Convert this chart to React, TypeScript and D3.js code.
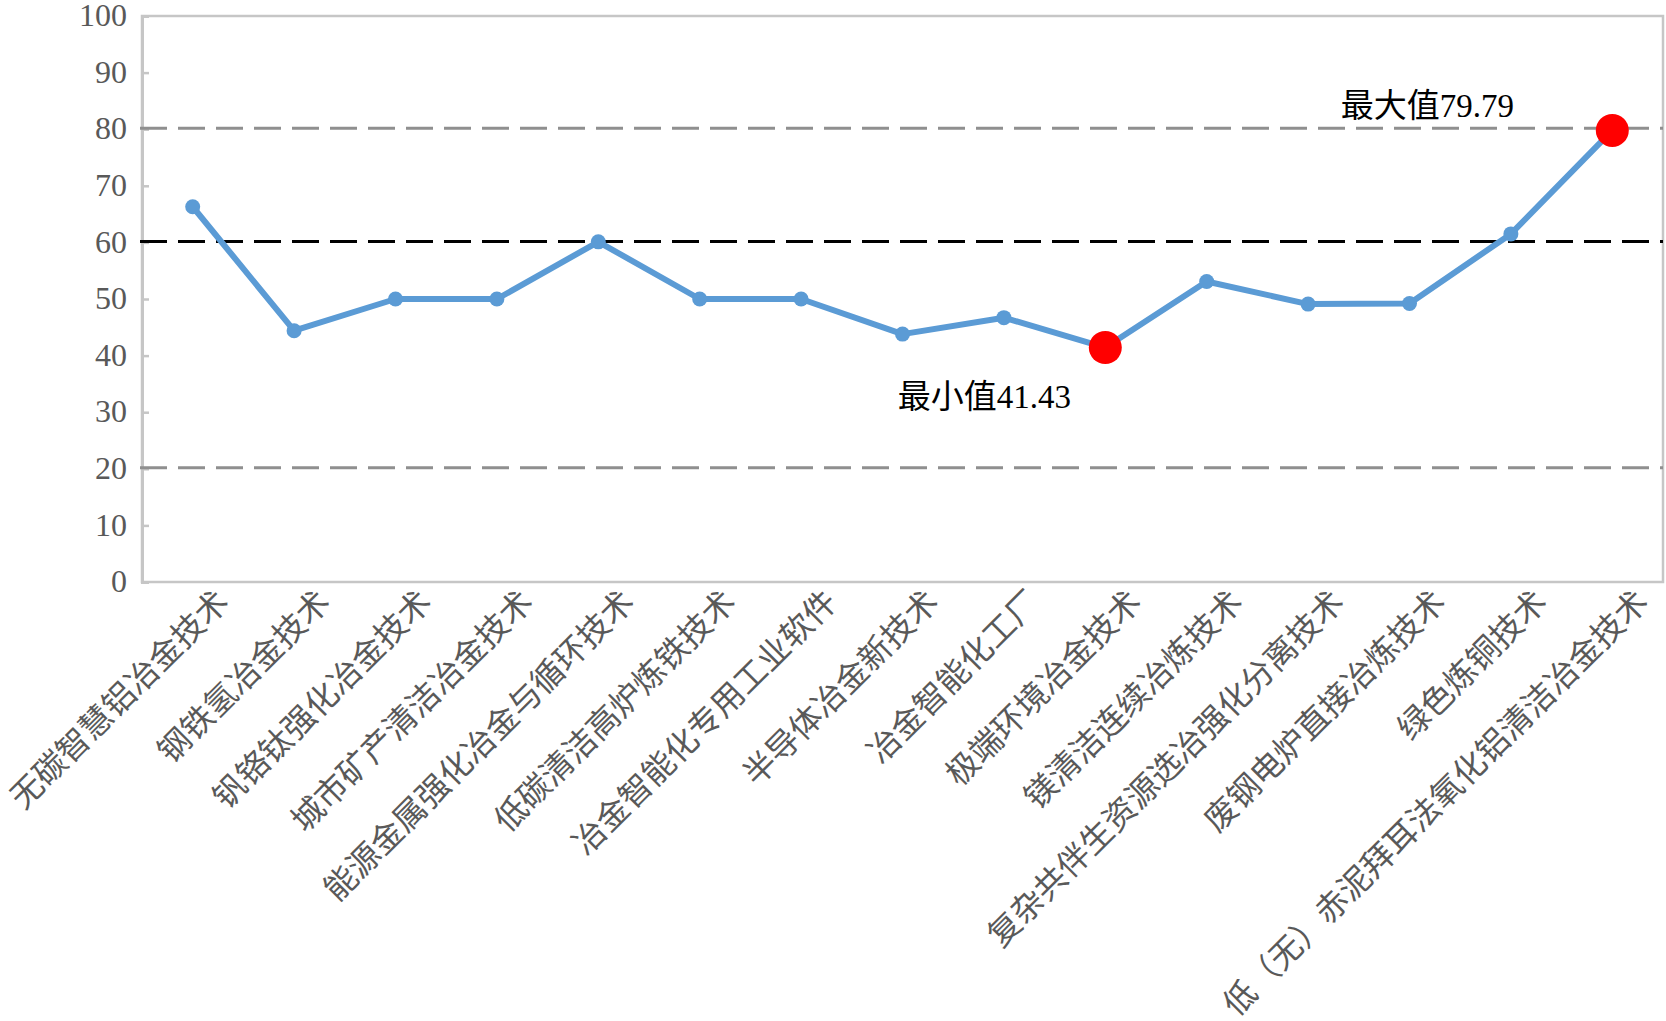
import React, { useRef, useEffect } from 'react';
import * as d3 from 'd3';

// technology names, in chart order
const categories = [
  '无碳智慧铝冶金技术',
  '钢铁氢冶金技术',
  '钒铬钛强化冶金技术',
  '城市矿产清洁冶金技术',
  '能源金属强化冶金与循环技术',
  '低碳清洁高炉炼铁技术',
  '冶金智能化专用工业软件',
  '半导体冶金新技术',
  '冶金智能化工厂',
  '极端环境冶金技术',
  '镁清洁连续冶炼技术',
  '复杂共伴生资源选冶强化分离技术',
  '废钢电炉直接冶炼技术',
  '绿色炼铜技术',
  '低（无）赤泥拜耳法氧化铝清洁冶金技术',
];

const scores = [66.3, 44.4, 50, 50, 60.1, 50, 50, 43.8, 46.7, 41.43, 53.1, 49.1, 49.2, 61.5, 79.79];

const yTickValues = [0, 10, 20, 30, 40, 50, 60, 70, 80, 90, 100];

// horizontal reference lines (60 = pass line)
const refLineValues = [80, 60, 20];

const W = 1666;
const H = 1021;
const margin = { top: 16, right: 3, bottom: 439, left: 142 };

const SERIF = '"Liberation Serif", "Times New Roman", "Noto Sans CJK SC", serif';

function App() {
  const ref = useRef<SVGSVGElement>(null);

  useEffect(() => {
    if (!ref.current) return;
    const svg = d3.select(ref.current);
    svg.selectAll('*').remove();

    const x0 = margin.left;
    const x1 = W - margin.right;
    const y0 = H - margin.bottom;
    const y1 = margin.top;

    const x = d3.scaleBand<string>().domain(categories).range([x0, x1]);
    const cx = (c: string) => (x(c) as number) + x.bandwidth() / 2;
    const y = d3.scaleLinear().domain([0, 100]).range([y0, y1]);

    // plot frame
    svg.append('rect')
      .attr('x', x0).attr('y', y1)
      .attr('width', x1 - x0).attr('height', y0 - y1)
      .attr('fill', 'none')
      .attr('stroke', '#c6c6c6')
      .attr('stroke-width', 2.5);

    // left axis with inward ticks
    const yAxis = svg.append('g')
      .attr('transform', `translate(${x0},0)`)
      .call(d3.axisRight(y).tickValues(yTickValues).tickSize(7).tickFormat(() => ''));
    yAxis.select('.domain').attr('stroke', '#c6c6c6').attr('stroke-width', 3);
    yAxis.selectAll('.tick line').attr('stroke', '#c6c6c6').attr('stroke-width', 2.5);

    svg.append('g')
      .selectAll('text')
      .data(yTickValues)
      .join('text')
      .attr('x', x0 - 15)
      .attr('y', d => y(d) - 1)
      .attr('dy', '0.35em')
      .attr('text-anchor', 'end')
      .attr('font-family', SERIF)
      .attr('font-size', 32)
      .attr('fill', '#595959')
      .text(d => d);

    // reference lines
    svg.append('g')
      .selectAll('line')
      .data(refLineValues)
      .join('line')
      .attr('x1', x0 - 2)
      .attr('x2', x1)
      .attr('y1', d => y(d) - 1)
      .attr('y2', d => y(d) - 1)
      .attr('stroke', d => (d === 60 ? '#000000' : '#8f8f8f'))
      .attr('stroke-width', 3)
      .attr('stroke-dasharray', '27,11');

    // x labels, rotated
    svg.append('g')
      .selectAll('text')
      .data(categories)
      .join('text')
      .attr('transform', d => `translate(${cx(d) + 38},${y0 + 22}) rotate(-45)`)
      .attr('text-anchor', 'end')
      .attr('font-family', SERIF)
      .attr('font-size', 32.5)
      .attr('fill', '#595959')
      .text(d => d);

    // score line
    const line = d3.line<number>()
      .x((_, i) => cx(categories[i]))
      .y(d => y(d));

    svg.append('path')
      .datum(scores)
      .attr('d', line)
      .attr('fill', 'none')
      .attr('stroke', '#5b9bd5')
      .attr('stroke-width', 6)
      .attr('stroke-linejoin', 'round');

    const maxV = d3.max(scores) as number;
    const minV = d3.min(scores) as number;

    svg.append('g')
      .selectAll('circle')
      .data(scores)
      .join('circle')
      .attr('cx', (_, i) => cx(categories[i]))
      .attr('cy', d => y(d))
      .attr('r', d => (d === maxV || d === minV ? 16.5 : 7.5))
      .attr('fill', d => (d === maxV || d === minV ? '#ff0000' : '#5b9bd5'));

    // extreme value notes
    const iMax = scores.indexOf(maxV);
    const iMin = scores.indexOf(minV);
    svg.append('text')
      .attr('x', cx(categories[iMax]) - 185)
      .attr('y', y(maxV) - 13)
      .attr('text-anchor', 'middle')
      .attr('font-family', SERIF)
      .attr('font-size', 33)
      .attr('fill', '#000')
      .text(`最大值${maxV}`);
    svg.append('text')
      .attr('x', cx(categories[iMin]) - 121)
      .attr('y', y(minV) + 60)
      .attr('text-anchor', 'middle')
      .attr('font-family', SERIF)
      .attr('font-size', 33)
      .attr('fill', '#000')
      .text(`最小值${minV}`);
  }, []);

  return (
    <svg
      ref={ref}
      width={W}
      height={H}
      style={{ position: 'absolute', left: 0, top: 0, background: '#fff' }}
    />
  );
}

export default App;
